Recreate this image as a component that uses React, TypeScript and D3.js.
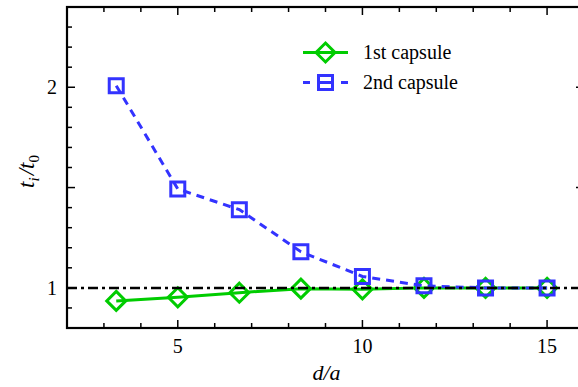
import React from "react";
import * as d3 from "d3";

// d/a positions of the capsules
const ratios = [10 / 3, 5, 20 / 3, 25 / 3, 10, 35 / 3, 40 / 3, 15];
// normalised passage time t_i / t_0 for each capsule
const firstCapsule = [0.935, 0.953, 0.976, 0.996, 0.993, 1.0, 1.0, 1.0];
const secondCapsule = [2.008, 1.493, 1.39, 1.18, 1.057, 1.01, 1.0, 1.0];
const xTickLabels = [5, 10, 15];
const yTickLabels = [1, 2];
const seriesNames = ["1st capsule", "2nd capsule"];

const W = 578;
const H = 387;
const margin = { left: 67, top: 7, right: -6, bottom: 59 };
const FONT = "Liberation Serif";
const GREEN = "#00cc00";
const BLUE = "#3333ff";

const x = d3.scaleLinear().domain([2, 16]).range([margin.left, W - margin.right]);
const y = d3.scaleLinear().domain([0.8, 2.4]).range([H - margin.bottom, margin.top]);
const [x0, x1] = x.range();
const [yb, yt] = y.range();

const line = d3.line<[number, number]>().x((d) => x(d[0])).y((d) => y(d[1]));
const diamond = (cx: number, cy: number, r: number) =>
  `M${cx},${cy - r}L${cx + r},${cy}L${cx},${cy + r}L${cx - r},${cy}Z`;
const square = (cx: number, cy: number, s: number) =>
  `M${cx - s / 2},${cy - s / 2}h${s}v${s}h${-s}Z`;

const firstPts = ratios.map((r, i) => [r, firstCapsule[i]] as [number, number]);
const secondPts = ratios.map((r, i) => [r, secondCapsule[i]] as [number, number]);

const xMinor = d3.range(3, 16, 1);
const yMinor = d3.range(9, 24, 1).map((v) => v / 10);
const isMajorX = (v: number) => v % 5 === 0;
const isMajorY = (v: number) => Math.abs(v * 2 - Math.round(v * 2)) < 1e-6;

export default function App() {
  return (
    <svg
      width={W}
      height={H}
      style={{ position: "absolute", left: 0, top: 0, display: "block", background: "#fff" }}
    >
      {/* inward ticks on all four sides */}
      <g stroke="#000" strokeWidth={1.5}>
        {xMinor.map((v) => {
          const len = isMajorX(v) ? 8 : 5;
          return (
            <g key={"x" + v}>
              <line x1={x(v)} x2={x(v)} y1={yb} y2={yb - len} />
              <line x1={x(v)} x2={x(v)} y1={yt} y2={yt + len} />
            </g>
          );
        })}
        {yMinor.map((v) => {
          const len = isMajorY(v) ? 8 : 5;
          return (
            <g key={"y" + v}>
              <line x1={x0} x2={x0 + len} y1={y(v)} y2={y(v)} />
              <line x1={x1} x2={x1 - len} y1={y(v)} y2={y(v)} />
            </g>
          );
        })}
      </g>

      {/* frame */}
      <rect x={x0} y={yt} width={x1 - x0} height={yb - yt} fill="none" stroke="#000" strokeWidth={2.2} />

      {/* tick labels */}
      {xTickLabels.map((v) => (
        <text key={"xl" + v} x={x(v)} y={yb + 25} textAnchor="middle" fontFamily={FONT} fontSize={20}>
          {v}
        </text>
      ))}
      {yTickLabels.map((v) => (
        <text key={"yl" + v} x={x0 - 10} y={y(v)} dy="0.35em" textAnchor="end" fontFamily={FONT} fontSize={20}>
          {v}
        </text>
      ))}

      {/* axis titles */}
      <text x={(x0 + W) / 2 + 4} y={380} textAnchor="middle" fontFamily={FONT} fontSize={22} fontStyle="italic">
        d/a
      </text>
      <text
        transform={`translate(34, ${(yt + yb) / 2 + 4}) rotate(-90)`}
        textAnchor="middle"
        fontFamily={FONT}
        fontSize={23}
        fontStyle="italic"
      >
        <tspan>t</tspan>
        <tspan fontSize={15} dy={5}>i</tspan>
        <tspan dy={-5} dx={2}>/</tspan>
        <tspan>t</tspan>
        <tspan fontSize={15} dy={5} fontStyle="normal">0</tspan>
      </text>

      {/* 1st capsule */}
      <path d={line(firstPts) ?? ""} fill="none" stroke={GREEN} strokeWidth={3} />
      {firstPts.map((p, i) => (
        <path key={"d" + i} d={diamond(x(p[0]), y(p[1]), 9.5)} fill="none" stroke={GREEN} strokeWidth={3} />
      ))}

      {/* 2nd capsule */}
      <path d={line(secondPts) ?? ""} fill="none" stroke={BLUE} strokeWidth={3} strokeDasharray="8,6" />
      {secondPts.map((p, i) => (
        <path key={"s" + i} d={square(x(p[0]), y(p[1]), 14)} fill="none" stroke={BLUE} strokeWidth={3} />
      ))}

      {/* reference line t_i / t_0 = 1 */}
      <line x1={x0} x2={x1} y1={y(1)} y2={y(1)} stroke="#000" strokeWidth={2.5} strokeDasharray="10,4,3,4" />

      {/* legend */}
      <g>
        <line x1={303} x2={348} y1={52.5} y2={52.5} stroke={GREEN} strokeWidth={3} />
        <path d={diamond(325.5, 52.5, 9.5)} fill="none" stroke={GREEN} strokeWidth={3} />
        <line x1={303} x2={348} y1={82.5} y2={82.5} stroke={BLUE} strokeWidth={3} strokeDasharray="7,8.5,14,8.5,7" />
        <path d={square(325.5, 82.5, 14)} fill="none" stroke={BLUE} strokeWidth={3} />
        {seriesNames.map((name, i) => (
          <text key={name} x={363} y={59 + i * 30} fontFamily={FONT} fontSize={20}>
            {name}
          </text>
        ))}
      </g>
    </svg>
  );
}
